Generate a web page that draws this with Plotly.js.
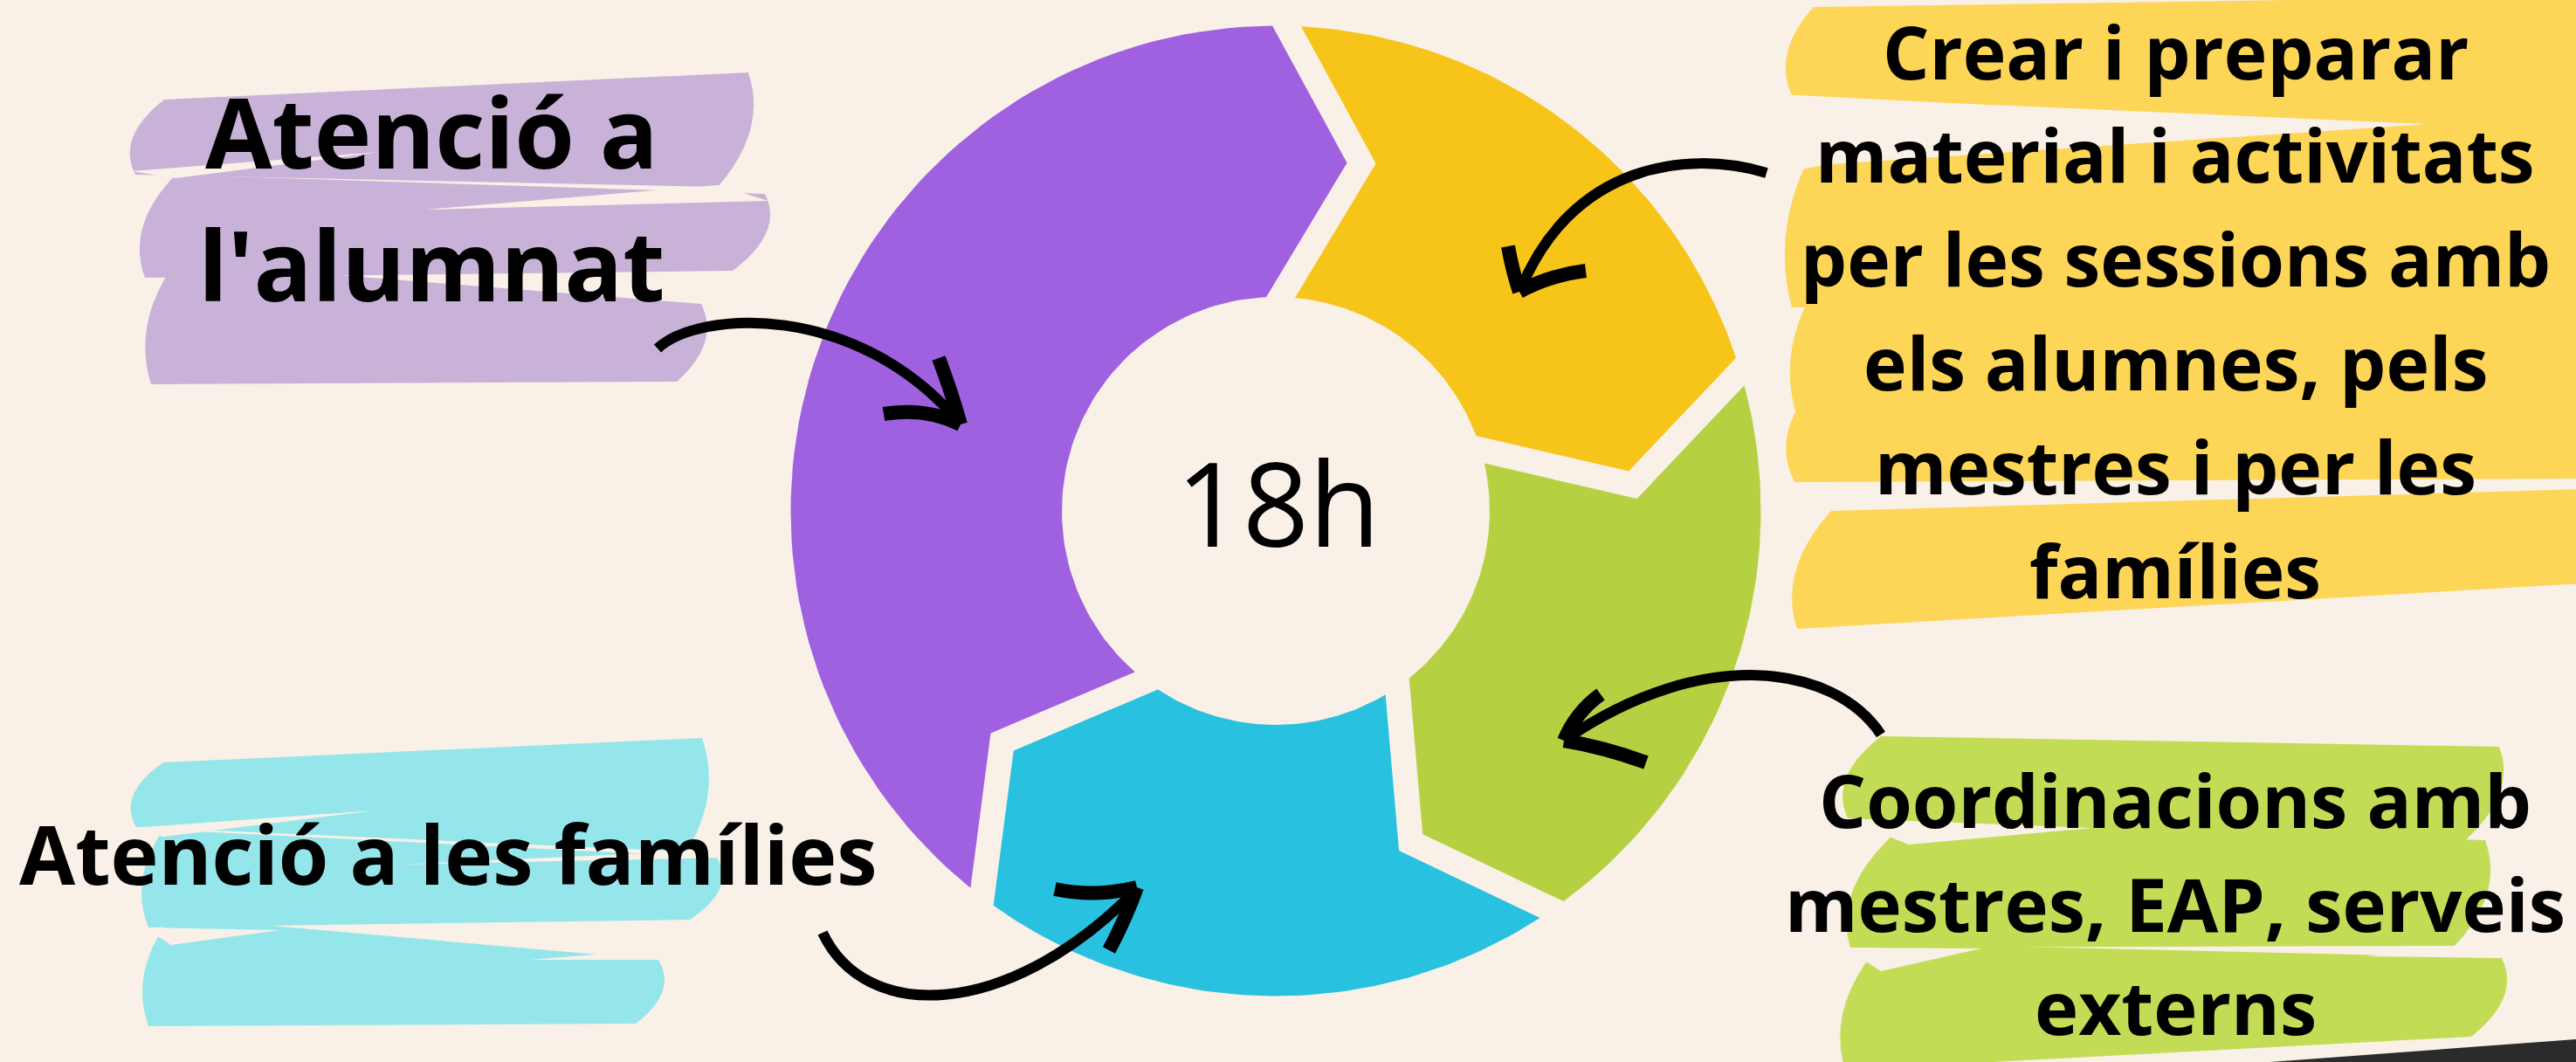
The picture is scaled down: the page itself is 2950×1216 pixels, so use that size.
<!DOCTYPE html>
<html>
<head>
<meta charset="utf-8">
<script src="https://cdn.plot.ly/plotly-3.0.1.min.js"></script>
<style>
  html, body { margin: 0; padding: 0; background: #f9f0e7; }
  #chart { width: 2950px; height: 1216px; }
</style>
</head>
<body>
<div id="chart"></div>
<script>
// ---------------- DATA ----------------
const categories = [
  "Crear i preparar material i activitats per les sessions amb els alumnes, pels mestres i per les famílies",
  "Coordinacions amb mestres, EAP, serveis externs",
  "Atenció a les famílies",
  "Atenció a l'alumnat"
];
const hours = [3.6, 3.6, 3.6, 7.2];
const labelLines = [
  ["Crear i preparar", "material i activitats", "per les sessions amb", "els alumnes, pels", "mestres i per les", "famílies"],
  ["Coordinacions amb", "mestres, EAP, serveis", "externs"],
  ["Atenció a les famílies"],
  ["Atenció a", "l'alumnat"]
];
const unit = "h";

// ---------------- STYLE / LAYOUT ----------------
const W = 2950, H = 1216;
const BG = "#f9f0e7";
const segColors = ["#f7c519", "#b5d142", "#29c1e0", "#9f61e0"];
const brushColors = ["#fdd657", "#c2dd55", "#95e6ea", "#c9b2d8"];
const CX = 1461, CY = 585, RO = 555.5, RI = 245, GAP = 33, TIP = 89, START = 1.3;
const FONT = "Open Sans, Noto Sans, sans-serif";
const labelPos = [
  { x: 2491, y: 58, dy: 118.8, size: 84 },
  { x: 2491, y: 915, dy: 118.5, size: 85 },
  { x: 513, y: 977, dy: 0, size: 93 },
  { x: 494, y: 150, dy: 152, size: 111 }
];

const rad = d => d * Math.PI / 180;
function onCircle(r, deg) { const a = rad(deg); return [CX + r * Math.sin(a), CY - r * Math.cos(a)]; }
function chev(deg, shift) {
  const a = rad(deg), rm = (RO + RI) / 2;
  return [CX + rm * Math.sin(a) + shift * Math.cos(a), CY - rm * Math.cos(a) + shift * Math.sin(a)];
}

const total = hours.reduce((a, b) => a + b, 0);
const aO = Math.asin(GAP / 2 / RO) * 180 / Math.PI;
const aI = Math.asin(GAP / 2 / RI) * 180 / Math.PI;
const traces = [];
let acc = 0;
hours.forEach((v, i) => {
  const s = START + 360 * acc / total;
  const e = START + 360 * (acc + v) / total;
  acc += v;
  const xs = [], ys = [];
  const N = 80;
  for (let k = 0; k <= N; k++) { const d = (s + aO) + (e - aO - s - aO) * k / N; const p = onCircle(RO, d); xs.push(p[0]); ys.push(p[1]); }
  let p = chev(e, TIP - GAP / 2); xs.push(p[0]); ys.push(p[1]);
  for (let k = 0; k <= N; k++) { const d = (e - aI) - (e - aI - s - aI) * k / N; const q = onCircle(RI, d); xs.push(q[0]); ys.push(q[1]); }
  p = chev(s, TIP + GAP / 2); xs.push(p[0]); ys.push(p[1]);
  xs.push(xs[0]); ys.push(ys[0]);
  traces.push({
    type: "scatter", mode: "lines", x: xs, y: ys, fill: "toself",
    fillcolor: segColors[i], line: { width: 0, color: segColors[i] },
    name: categories[i], text: categories[i] + ": " + v + unit, hoverinfo: "text"
  });
});

// ---------------- DECORATION ----------------
function brush(tl, tr, br, bl, color) {
  const rx = Math.max(tr[0], br[0]) + 22, ry = (tr[1] + br[1]) / 2;
  const lx = Math.min(tl[0], bl[0]) - 22, ly = (tl[1] + bl[1]) / 2;
  return {
    type: "path", xref: "x", yref: "y", layer: "below",
    path: `M ${tl[0]} ${tl[1]} L ${tr[0]} ${tr[1]} Q ${rx} ${ry} ${br[0]} ${br[1]} L ${bl[0]} ${bl[1]} Q ${lx} ${ly} ${tl[0]} ${tl[1]} Z`,
    fillcolor: color, line: { width: 0 }
  };
}
function wedge(pts) {
  return {
    type: "path", xref: "x", yref: "y", layer: "below",
    path: "M " + pts.map(p => p[0] + " " + p[1]).join(" L ") + " Z",
    fillcolor: BG, line: { width: 0 }
  };
}
const shapes = [];
// purple brush
shapes.push(brush([188, 114], [857, 83], [822, 214], [155, 200], brushColors[3]));
shapes.push(brush([201, 200], [876, 222], [839, 310], [166, 318], brushColors[3]));
shapes.push(brush([201, 300], [803, 348], [775, 437], [173, 440], brushColors[3]));
shapes.push(wedge([[150, 196], [436, 174], [201, 204]]));
shapes.push(wedge([[487, 240], [822, 212], [880, 230]]));
// yellow brush
shapes.push(brush([2077, 8], [2960, -5], [2960, 150], [2052, 110], brushColors[0]));
shapes.push(brush([2067, 190], [2960, 130], [2960, 340], [2052, 352], brushColors[0]));
shapes.push(brush([2073, 340], [2960, 330], [2960, 470], [2058, 477], brushColors[0]));
shapes.push(brush([2060, 465], [2960, 455], [2960, 548], [2055, 552], brushColors[0]));
shapes.push(brush([2097, 585], [2960, 560], [2960, 668], [2058, 720], brushColors[0]));
shapes.push(wedge([[2040, 108], [2418, 128], [2062, 194]]));
// cyan brush
shapes.push(brush([187, 873], [804, 845], [786, 975], [156, 947], brushColors[2]));
shapes.push(brush([187, 950], [821, 982], [790, 1053], [170, 1062], brushColors[2]));
shapes.push(brush([196, 1050], [754, 1099], [728, 1172], [170, 1175], brushColors[2]));
shapes.push(wedge([[150, 948], [429, 928], [187, 958]]));
shapes.push(wedge([[455, 990], [786, 975], [830, 982]]));
shapes.push(wedge([[165, 1062], [321, 1065], [196, 1082]]));
shapes.push(wedge([[607, 1099], [741, 1088], [760, 1099]]));
// green brush
shapes.push(brush([2154, 843], [2862, 855], [2814, 970], [2116, 937], brushColors[1]));
shapes.push(brush([2186, 940], [2846, 962], [2811, 1083], [2119, 1085], brushColors[1]));
shapes.push(brush([2154, 1080], [2865, 1097], [2830, 1187], [2113, 1225], brushColors[1]));
shapes.push(wedge([[2110, 937], [2396, 948], [2186, 967]]));
shapes.push(wedge([[2112, 1085], [2269, 1086], [2154, 1112]]));
shapes.push(wedge([[2709, 1095], [2811, 1083], [2870, 1097]]));
// dark stroke bottom right
shapes.push({ type: "path", xref: "x", yref: "y", layer: "above",
  path: "M 2600 1216 L 2950 1190 L 2950 1216 Z", fillcolor: "#2b2b2b", line: { width: 0 } });

// arrows
function arrow(d, wings) {
  const out = [{ type: "path", xref: "x", yref: "y", layer: "above", path: d, line: { color: "#000", width: 12 } }];
  wings.forEach(w => out.push({ type: "path", xref: "x", yref: "y", layer: "above", path: w, line: { color: "#000", width: 16 } }));
  return out;
}
shapes.push(...arrow("M 753 399 C 800 355, 980 345, 1097 482",
  ["M 1012 474 Q 1060 466, 1100 486", "M 1075 410 Q 1090 450, 1100 486"]));
shapes.push(...arrow("M 2023 198 C 1930 170, 1800 190, 1742 330",
  ["M 1727 282 Q 1732 310, 1740 334", "M 1816 310 Q 1775 315, 1740 334"]));
shapes.push(...arrow("M 2154 841 C 2100 760, 1950 740, 1795 845",
  ["M 1833 795 Q 1805 815, 1791 848", "M 1885 873 Q 1835 855, 1791 848"]));
shapes.push(...arrow("M 942 1068 C 990 1170, 1150 1170, 1298 1022",
  ["M 1208 1018 Q 1255 1028, 1302 1016", "M 1270 1088 Q 1290 1050, 1302 1016"]));

// ---------------- TEXT ----------------
const annotations = [];
labelLines.forEach((lines, i) => {
  const lp = labelPos[i];
  lines.forEach((t, k) => {
    annotations.push({
      x: lp.x, y: lp.y + k * lp.dy, xref: "x", yref: "y", text: t, showarrow: false,
      xanchor: "center", yanchor: "middle",
      font: { family: FONT, size: lp.size, color: "#000", weight: 700 }
    });
  });
});
annotations.push({
  x: 1464, y: 574, xref: "x", yref: "y", text: total + unit, showarrow: false,
  xanchor: "center", yanchor: "middle",
  font: { family: FONT, size: 133, color: "#000", weight: 400 }
});

const layout = {
  width: W, height: H,
  margin: { l: 0, r: 0, t: 0, b: 0, pad: 0 },
  paper_bgcolor: BG, plot_bgcolor: BG,
  showlegend: false,
  xaxis: { range: [0, W], visible: false, fixedrange: true },
  yaxis: { range: [H, 0], visible: false, fixedrange: true },
  shapes: shapes,
  annotations: annotations
};
Plotly.newPlot("chart", traces, layout, { displayModeBar: false, staticPlot: true });
</script>
</body>
</html>
